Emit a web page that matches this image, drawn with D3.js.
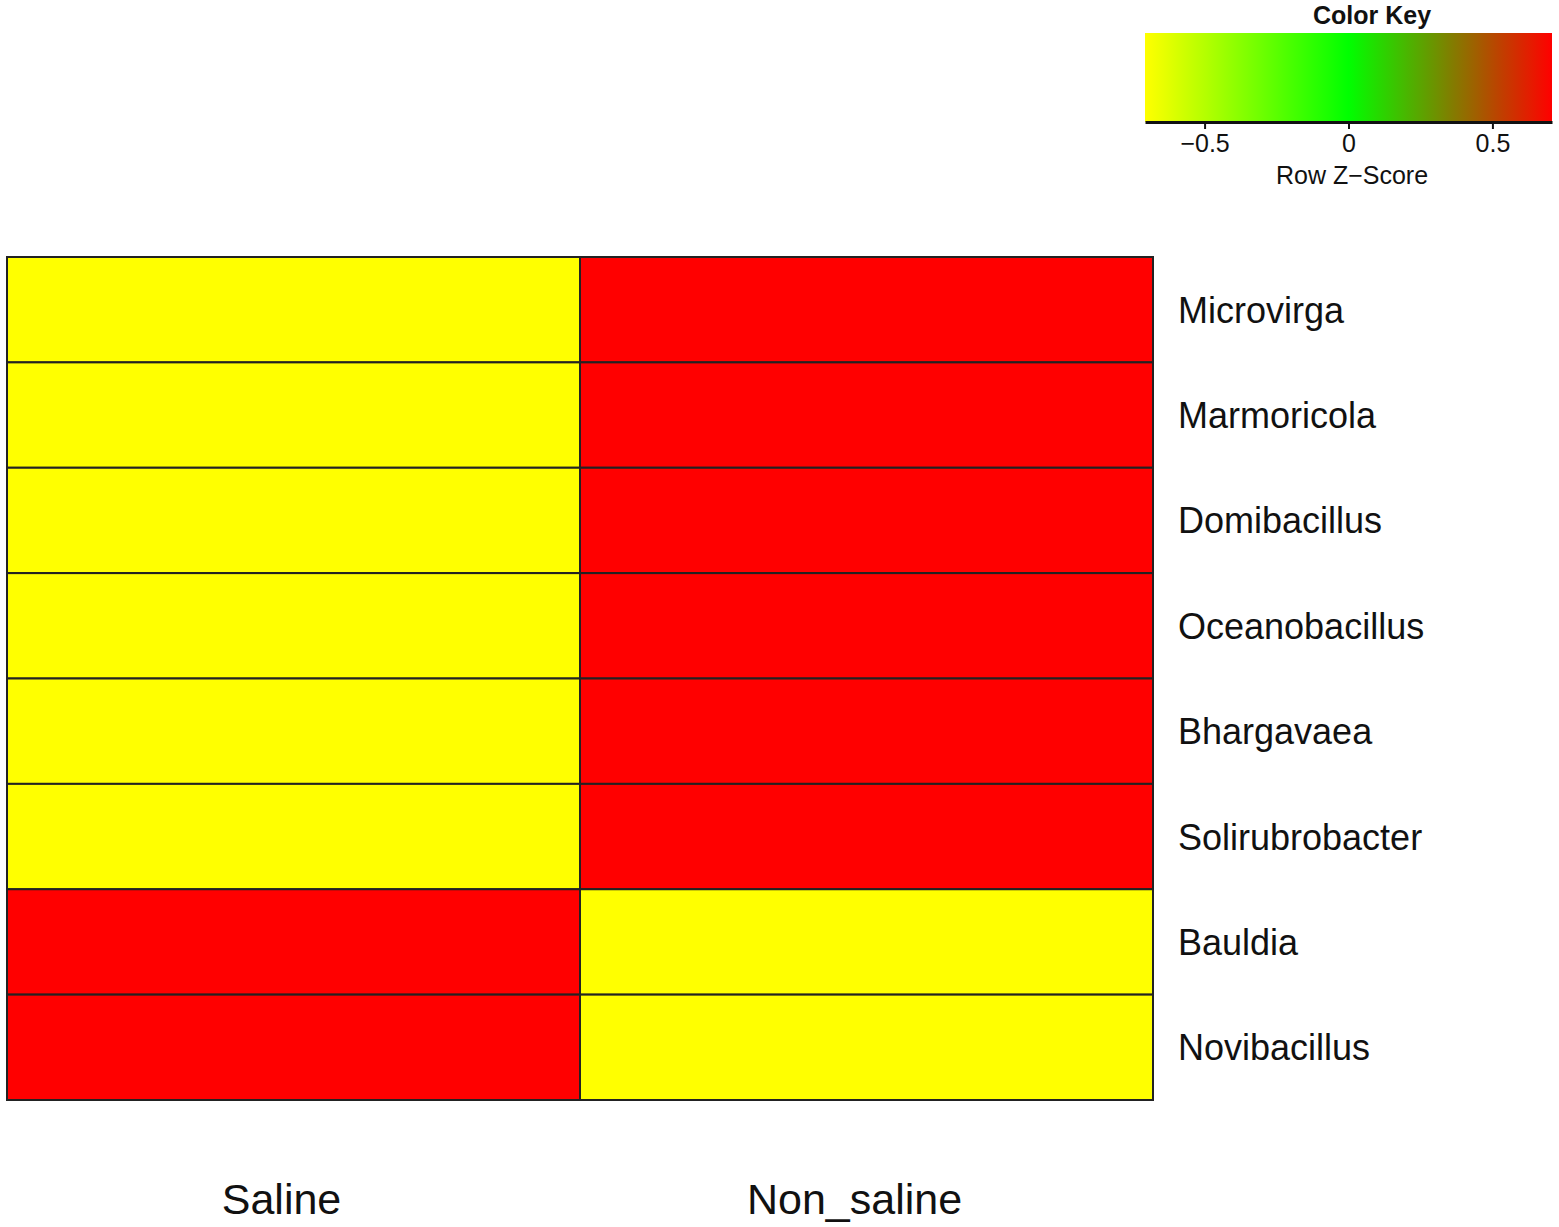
<!DOCTYPE html>
<html>
<head>
<meta charset="utf-8">
<script src="https://cdn.jsdelivr.net/npm/d3@7"></script>
<style>
  body { margin: 0; background: #fff; }
  text { font-family: "Liberation Sans", Arial, sans-serif; }
</style>
</head>
<body>
<div id="viz"></div>
<script>
var genera = ["Microvirga", "Marmoricola", "Domibacillus", "Oceanobacillus",
              "Bhargavaea", "Solirubrobacter", "Bauldia", "Novibacillus"];
var samples = ["Saline", "Non_saline"];
// row z-scores, one value per sample
var saline    = [-0.707, -0.707, -0.707, -0.707, -0.707, -0.707, 0.707, 0.707];
var nonSaline = [0.707, 0.707, 0.707, 0.707, 0.707, 0.707, -0.707, -0.707];
var keyTicks = [-0.5, 0, 0.5];

var W = 1559, H = 1227;
var svg = d3.select("#viz").append("svg")
    .attr("width", W).attr("height", H);

var x = d3.scaleBand().domain(samples).range([7, 1153]);
var y = d3.scaleBand().domain(genera).range([257, 1100]);

var color = d3.scaleLinear()
    .domain([-0.707, 0, 0.707])
    .range(["#ffff00", "#00ff00", "#ff0000"])
    .interpolate(d3.interpolateRgb);

var cells = [];
genera.forEach(function(g, i) {
  cells.push({ row: g, col: "Saline", v: saline[i] });
  cells.push({ row: g, col: "Non_saline", v: nonSaline[i] });
});

svg.append("g").selectAll("rect").data(cells).enter().append("rect")
    .attr("x", function(d) { return x(d.col); })
    .attr("y", function(d) { return y(d.row); })
    .attr("width", x.bandwidth())
    .attr("height", y.bandwidth())
    .style("fill", function(d) { return color(d.v); })
    .style("stroke", "#222")
    .style("stroke-width", 2);

// row labels
svg.append("g").selectAll("text").data(genera).enter().append("text")
    .attr("x", 1178)
    .attr("y", function(d) { return y(d) + y.bandwidth() / 2; })
    .attr("dy", "0.36em")
    .style("font-size", "36px")
    .style("fill", "#111")
    .text(function(d) { return d; });

// column labels
svg.append("g").selectAll("text").data(samples).enter().append("text")
    .attr("x", function(d) { return x(d) + x.bandwidth() / 2 - 12; })
    .attr("y", 1214)
    .attr("text-anchor", "middle")
    .style("font-size", "43px")
    .style("fill", "#111")
    .text(function(d) { return d; });

// color key
var kx = d3.scaleLinear().domain([-0.707, 0.707]).range([1145, 1552]);
var defs = svg.append("defs");
var grad = defs.append("linearGradient").attr("id", "keygrad")
    .attr("x1", "0%").attr("x2", "100%");
d3.range(0, 1.0001, 0.05).forEach(function(t) {
  grad.append("stop")
      .attr("offset", (t * 100) + "%")
      .attr("stop-color", color(-0.707 + t * 1.414));
});

svg.append("rect")
    .attr("x", kx.range()[0]).attr("y", 33)
    .attr("width", kx.range()[1] - kx.range()[0]).attr("height", 89)
    .style("fill", "url(#keygrad)");

var keyAxis = svg.append("g")
    .attr("transform", "translate(0,122)")
    .call(d3.axisBottom(kx).tickValues(keyTicks).tickSize(7).tickSizeOuter(0)
      .tickFormat(function(d) { return d === 0 ? "0" : d3.format(".1f")(d); }));
keyAxis.select(".domain").style("stroke", "#111").style("stroke-width", 3);
keyAxis.selectAll(".tick line").style("stroke", "#111").style("stroke-width", 2);
keyAxis.selectAll(".tick text")
    .style("font-size", "25px").style("fill", "#111")
    .style("font-family", "'Liberation Sans', Arial, sans-serif")
    .attr("y", 12);

svg.append("text")
    .attr("x", 1372).attr("y", 24)
    .attr("text-anchor", "middle")
    .style("font-size", "25px").style("font-weight", "bold").style("fill", "#111")
    .text("Color Key");

svg.append("text")
    .attr("x", 1352).attr("y", 184)
    .attr("text-anchor", "middle")
    .style("font-size", "25px").style("fill", "#111")
    .text("Row Z\u2212Score");
</script>
</body>
</html>
